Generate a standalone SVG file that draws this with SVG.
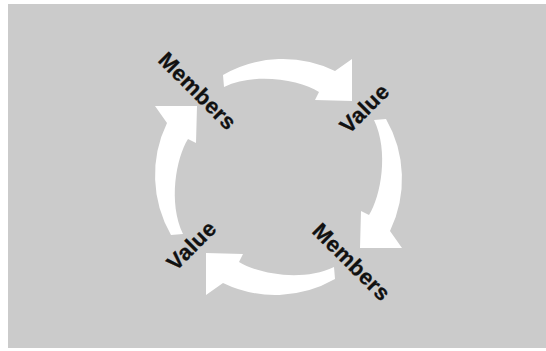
<svg xmlns="http://www.w3.org/2000/svg" width="546" height="351" viewBox="0 0 546 351">
  <style>
    .bg { fill: #cbcbcb; }
    .arrow { fill: #ffffff; }
    .label { font-family: "Liberation Sans", Arial, sans-serif; font-weight: bold; font-size: 22px; letter-spacing: 0.4px; fill: #111111; stroke: #111111; stroke-width: 0.3; text-anchor: middle; dominant-baseline: central; }
  </style>
  <defs>
    <path id="cyc-arrow" d="M 223,75 A 120 120 0 0 1 335,71 L 352,59 L 352,101 L 315,100 L 319,92 C 300,80 255,72 224,87 Z"/>
  </defs>
  <rect x="0" y="0" width="546" height="351" fill="#ffffff"/>
  <rect class="bg" x="8" y="4" width="538" height="344"/>
  <g id="connectors">
    <use href="#cyc-arrow" class="arrow"/>
    <use href="#cyc-arrow" class="arrow" transform="translate(5,-2) rotate(90 279 177)"/>
    <use href="#cyc-arrow" class="arrow" transform="rotate(180 279 177)"/>
    <use href="#cyc-arrow" class="arrow" transform="translate(-6,2) rotate(270 279 177)"/>
  </g>
  <g id="members-top">
    <text class="label" transform="translate(197.5,91) rotate(45)">Members</text>
  </g>
  <g id="value-right">
    <text class="label" transform="translate(364.5,108.5) rotate(-45)">Value</text>
  </g>
  <g id="members-bottom">
    <text class="label" transform="translate(351.5,262) rotate(45)">Members</text>
  </g>
  <g id="value-left">
    <text class="label" transform="translate(191.5,245.5) rotate(-45)">Value</text>
  </g>
</svg>
